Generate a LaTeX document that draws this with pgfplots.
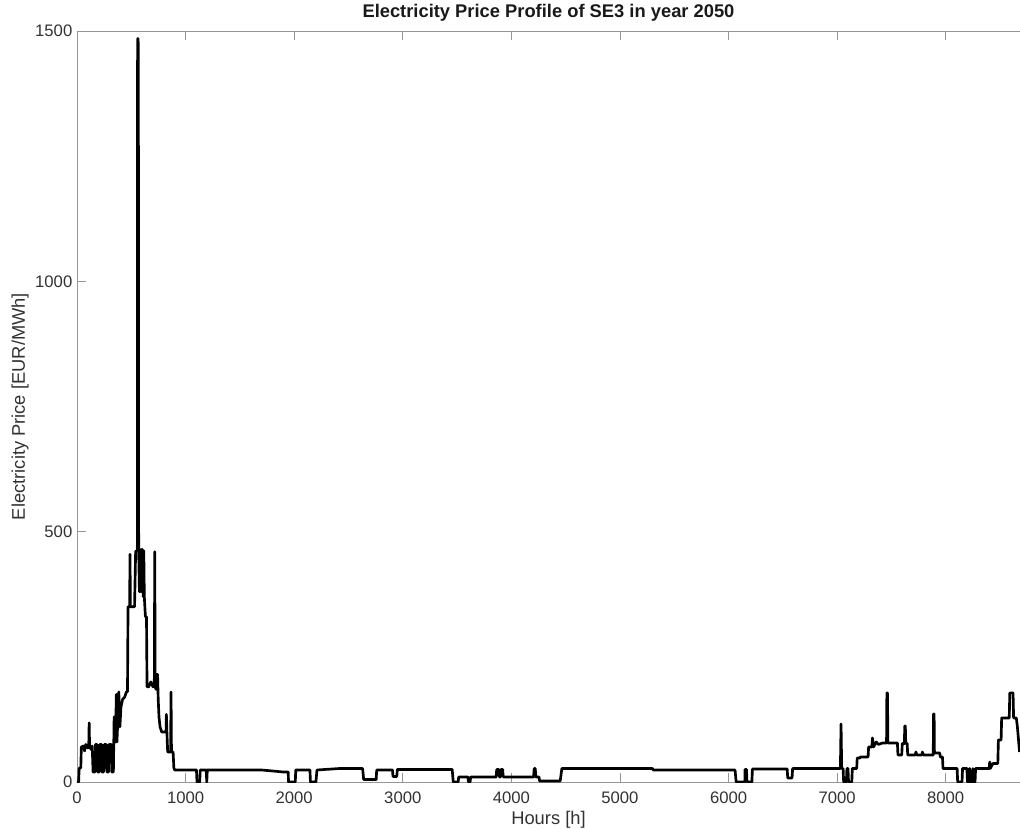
\documentclass[border=0pt]{standalone}
\usepackage{fontspec}
\setmainfont{Liberation Sans}
\usepackage{pgfplots}
\pgfplotsset{compat=1.18}
\definecolor{axgray}{RGB}{150,150,150}
\definecolor{txtgray}{RGB}{50,50,50}
\begin{document}
\begin{tikzpicture}
\begin{axis}[
  scale only axis,
  width=707.25pt, height=563.25pt,
  at={(0,0)}, anchor=south west,
  xmin=0, xmax=8684, ymin=0, ymax=1500,
  axis y line*=left,
  axis line style={draw=axgray, line width=0.6pt},
  xtick={0,1000,...,8000},
  ytick={0,500,1000,1500},
  tick align=inside,
  major tick length=7pt,
  tick style={draw=axgray, line width=0.6pt},
  /pgf/number format/assume math mode=true,
  /pgf/number format/1000 sep={},
  tick label style={font=\fontsize{12.5}{15}\selectfont, text=txtgray},
  x tick label style={anchor=base, yshift=-16pt},
  xlabel={Hours [h]},
  ylabel={Electricity Price [EUR/MWh]},
  label style={font=\fontsize{13.75}{16}\selectfont, text=txtgray},
  xlabel style={at={([yshift=-31.5pt]axis description cs:0.5,0)}, anchor=base},
  ylabel style={at={([xshift=-39pt]axis description cs:0,0.5)}, anchor=base},
  title={Electricity Price Profile of SE3 in year 2050},
  title style={font=\bfseries\fontsize{13.75}{16}\selectfont, text=black!90, at={([yshift=4pt]axis description cs:0.5,1)}, anchor=base},
  clip=true,
]
\addplot[black, line width=2pt, line join=round] coordinates {
(0,0) (15,0) (20,28) (35,28) (40,70) (60,72) (70,62) (80,75) (100,68) (108,70) (112,118) (116,70)
(130,65) (140,72) (148,20) (165,20) (170,75) (185,75) (190,20) (205,20) (210,75) (225,75) (230,20)
(245,20) (250,75) (270,75) (275,20) (290,20) (295,75) (315,75) (320,20) (335,20) (342,130) (350,130)
(355,80) (362,175) (368,80) (378,135) (385,180) (395,110) (405,150) (420,165) (440,170) (455,180)
(465,180) (470,350) (485,350) (488,455) (492,350) (530,350) (540,460) (550,462) (556,462)
(558,1485) (562,1485) (565,1470) (568,460) (575,380) (580,465) (590,380) (600,465) (610,370)
(615,462) (620,370) (630,330) (640,330) (645,190) (660,190) (680,200) (700,190) (712,195)
(716,460) (720,190) (728,185) (733,215) (742,215) (748,165) (755,130) (765,110) (780,100)
(810,100) (820,100) (823,135) (828,100) (835,60) (862,60) (866,180) (870,60) (885,60) (892,28)
(900,24) (1100,24) (1105,0) (1130,0) (1135,24) (1190,24) (1195,0) (1200,24) (1400,24) (1700,24)
(1900,20) (1945,20) (1948,0) (2010,0) (2015,24) (2145,24) (2150,0) (2200,0) (2210,24) (2420,27)
(2630,27) (2640,5) (2755,5) (2760,24) (2905,24) (2910,11) (2945,11) (2950,25) (3455,25) (3465,0)
(3510,0) (3515,10) (3600,10) (3605,0) (3620,0) (3625,10) (3860,10) (3865,25) (3885,25) (3890,10)
(3900,10) (3905,25) (3920,25) (3925,10) (4205,10) (4210,27) (4220,27) (4225,10) (4255,10)
(4260,2) (4450,2) (4465,27) (5300,27) (5305,24) (6060,24) (6070,0) (6150,0) (6152,25) (6165,25)
(6170,0) (6215,0) (6220,26) (6540,26) (6545,8) (6585,8) (6590,27) (7030,27) (7036,116) (7042,27)
(7055,27) (7060,0) (7085,0) (7090,27) (7100,27) (7105,0) (7135,0) (7140,27) (7180,27) (7185,48)
(7210,48) (7215,50) (7285,50) (7290,70) (7320,70) (7325,88) (7335,70) (7360,80) (7380,75)
(7420,78) (7455,78) (7458,178) (7464,178) (7467,78) (7555,78) (7560,54) (7595,54) (7600,77)
(7620,77) (7622,112) (7628,112) (7632,77) (7645,77) (7650,54) (7720,54) (7725,60) (7735,54)
(7780,54) (7785,60) (7795,54) (7885,54) (7888,136) (7893,136) (7896,58) (7945,58) (7950,50)
(7970,50) (7975,27) (8105,27) (8110,0) (8150,0) (8155,27) (8195,27) (8200,0) (8215,0) (8220,27)
(8230,0) (8245,0) (8250,27) (8255,0) (8270,0) (8275,27) (8400,27) (8405,40) (8410,27) (8435,37)
(8480,37) (8485,84) (8510,84) (8515,128) (8585,128) (8590,178) (8620,178) (8625,128) (8650,128)
(8660,110) (8680,60)
};
\end{axis}
\pgfresetboundingbox
\path[use as bounding box] (-57.75pt,-35.25pt) rectangle (707.25pt,586.5pt);
\end{tikzpicture}
\end{document}
